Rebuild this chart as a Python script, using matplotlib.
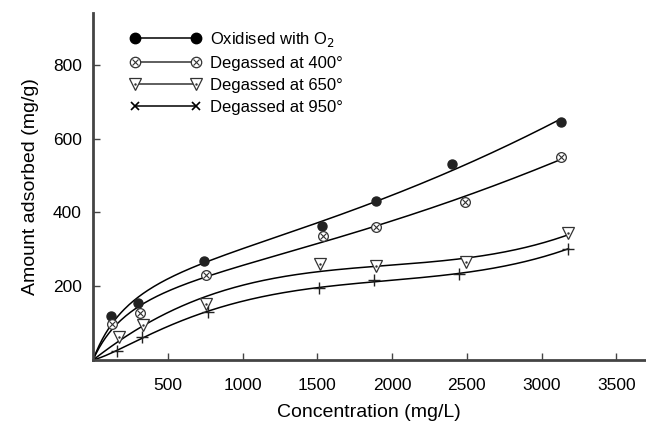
import numpy as np
import matplotlib
matplotlib.use("Agg")
import matplotlib.pyplot as plt
from matplotlib.lines import Line2D

plt.rcParams['font.family'] = ['Liberation Sans', 'DejaVu Sans']

# data
conc_o2 = [120, 300, 740, 1533, 1893, 2400, 3127]
amt_o2 = [119, 154, 268, 362, 430, 530, 646]

conc_400 = [127, 313, 753, 1540, 1893, 2487, 3127]
amt_400 = [97, 127, 230, 335, 360, 427, 551]

conc_650 = [173, 333, 753, 1520, 1893, 2493, 3180]
amt_650 = [62, 95, 151, 259, 254, 265, 343]

conc_950 = [160, 327, 767, 1513, 1880, 2447, 3180]
amt_950 = [24, 62, 130, 195, 216, 232, 302]

labels = ["Oxidised with O$_2$", "Degassed at 400\u00b0",
          "Degassed at 650\u00b0", "Degassed at 950\u00b0"]


def fit_curve(x, y, order):
    # smooth fitted curve through the origin, like the original figure
    x = np.asarray(x, float)
    y = np.asarray(y, float)

    def basis(t):
        cols = [t / (300.0 + t)] + [(t / 1000.0) ** k for k in range(1, order + 1)]
        return np.column_stack(cols)

    coef, *_ = np.linalg.lstsq(basis(x), y, rcond=None)
    xs = np.linspace(0, x.max(), 300)
    return xs, basis(xs) @ coef


fig = plt.figure(figsize=(6.46, 4.23), dpi=100)
ax = fig.add_axes([0.144, 0.149, 0.854, 0.82])

for cx, cy, order in [(conc_o2, amt_o2, 2), (conc_400, amt_400, 2),
                      (conc_650, amt_650, 3), (conc_950, amt_950, 3)]:
    xs, ys = fit_curve(cx, cy, order)
    ax.plot(xs, ys, color="black", lw=1.1, zorder=2)

ax.plot(conc_o2, amt_o2, "o", ms=6.5, color="#222222", ls="none", zorder=3)
ax.plot(conc_400, amt_400, "o", ms=7, mfc="white", mec="#333333", mew=0.9, ls="none", zorder=3)
ax.plot(conc_400, amt_400, "x", ms=4, color="#333333", mew=0.8, ls="none", zorder=4)
ax.plot(conc_650, amt_650, "v", ms=8, mfc="white", mec="#333333", mew=0.9, ls="none", zorder=3)
ax.plot(conc_650, amt_650, ".", ms=1.5, color="#333333", ls="none", zorder=4)
ax.plot(conc_950, amt_950, "+", ms=8, color="#222222", mew=1.0, ls="none", zorder=3)

# legend
h1 = Line2D([], [], color="black", lw=1.1, marker="o", ms=7.5, mfc="black", mec="black")
h2a = Line2D([], [], color="#333333", lw=1.1, marker="o", ms=7.5, mfc="white", mec="#333333", mew=0.9)
h2b = Line2D([], [], ls="none", marker="x", ms=4, color="#333333", mew=0.8)
h3a = Line2D([], [], color="#333333", lw=1.1, marker="v", ms=8.5, mfc="white", mec="#333333", mew=0.9)
h3b = Line2D([], [], ls="none", marker=".", ms=1.5, color="#333333")
h4 = Line2D([], [], color="black", lw=1.1, marker="x", ms=6, mew=1.2)
ax.legend([h1, (h2a, h2b), (h3a, h3b), h4], labels, numpoints=2,
          loc="upper left", bbox_to_anchor=(0.045, 0.985), frameon=False,
          fontsize=12, handlelength=4.3, handletextpad=0.55,
          labelspacing=0.42, borderaxespad=0.3)

ax.set_xlim(0, 3690)
ax.set_ylim(0, 940)
ax.set_xticks([500, 1000, 1500, 2000, 2500, 3000, 3500])
ax.set_yticks([200, 400, 600, 800])
ax.tick_params(direction="in", length=5, width=1, labelsize=12.5, color="#444444")
ax.tick_params(axis="x", pad=13)
ax.tick_params(axis="y", pad=8)
for s in ["top", "right"]:
    ax.spines[s].set_visible(False)
for s in ["left", "bottom"]:
    ax.spines[s].set_linewidth(2)
    ax.spines[s].set_color("#444444")

ax.set_xlabel("Concentration (mg/L)", fontsize=14, labelpad=8)
ax.set_ylabel("Amount adsorbed (mg/g)", fontsize=14, labelpad=10)

fig.savefig("out.png", dpi=100)
